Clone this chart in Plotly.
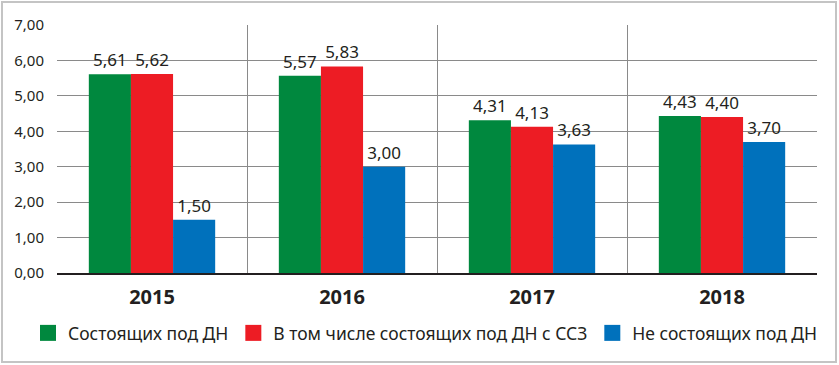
import plotly.graph_objects as go

years = ["2015", "2016", "2017", "2018"]
series_names = ["Состоящих под ДН", "В том числе состоящих под ДН с ССЗ", "Не состоящих под ДН"]
vals_dn = [5.61, 5.57, 4.31, 4.43]
vals_ssz = [5.62, 5.83, 4.13, 4.40]
vals_not = [1.50, 3.00, 3.63, 3.70]
colors = ["#00883e", "#ed1c24", "#0071bc"]
y_ticks = [0, 1, 2, 3, 4, 5, 6, 7]

FONT = "Noto Sans"
fig = go.Figure()
for name, vals, col in zip(series_names, [vals_dn, vals_ssz, vals_not], colors):
    fig.add_trace(go.Bar(
        x=years, y=vals, name=name, marker=dict(color=col, line=dict(width=0)),
        texttemplate="%{y:.2f}", textposition="outside", cliponaxis=False,
        textfont=dict(family=FONT, size=17, color="#231f20"),
        showlegend=False,
    ))
    fig.add_trace(go.Scatter(
        x=[None], y=[None], mode="markers", name=name,
        marker=dict(symbol="square", size=17, color=col),
        showlegend=True,
    ))

W, H = 839, 365
L, R, T, B = 57, 22, 25, 92
pw, ph = W - L - R, H - T - B

def px2paper_x(px):
    return (px - L) / pw

def px2paper_y(py):
    return (H - B - py) / ph

x0, x1 = px2paper_x(2), px2paper_x(836)
y0, y1 = px2paper_y(362), px2paper_y(2)

fig.update_layout(
    width=W, height=H,
    margin=dict(l=L, r=R, t=T, b=B, autoexpand=False),
    paper_bgcolor="white", plot_bgcolor="white",
    separators=", ",
    barmode="group", bargap=0.335, bargroupgap=0,
    font=dict(family=FONT, color="#231f20"),
    showlegend=True,
    legend=dict(orientation="h", x=px2paper_x(28), xanchor="left", y=px2paper_y(333), yanchor="middle",
                font=dict(family=FONT, size=17.5, color="#231f20"), itemsizing="trace",
                traceorder="normal", tracegroupgap=0, itemwidth=30),
    xaxis=dict(type="category", tickson="boundaries", showgrid=True, gridcolor="#8a8a8a", gridwidth=1,
               ticks="", showline=True, linecolor="#231f20", linewidth=1.5,
               tickfont=dict(family=FONT, size=20, color="#231f20", weight="bold"),
               ticklabelstandoff=5),
    yaxis=dict(range=[0, 7], tickvals=y_ticks, tickformat=".2f", showgrid=True, gridcolor="#8a8a8a",
               gridwidth=1, zeroline=False, showline=False, ticks="",
               tickfont=dict(family=FONT, size=15, color="#231f20"), ticklabelstandoff=12),
    shapes=[dict(type="rect", xref="paper", yref="paper", x0=x0, x1=x1, y0=y0, y1=y1,
                 line=dict(color="#c4c4c4", width=2), layer="below")],
)
fig.write_html("out.html")
